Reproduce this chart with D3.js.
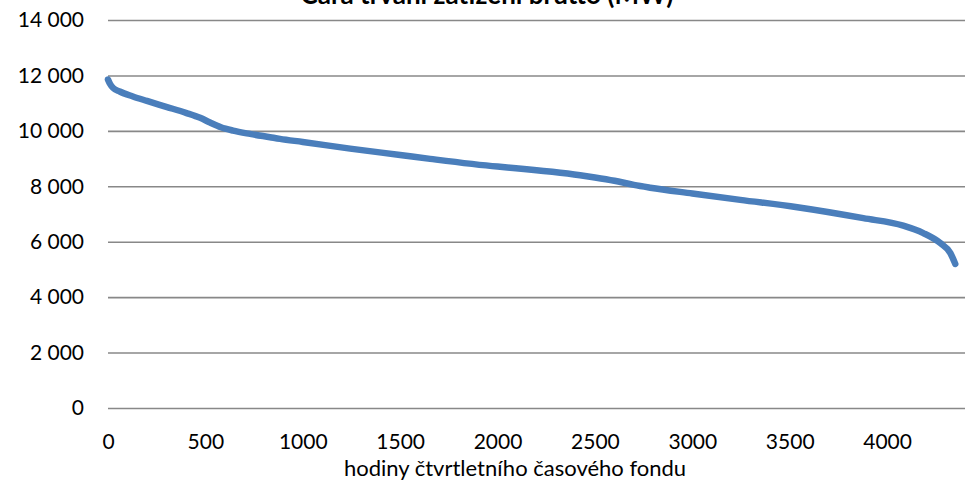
<!DOCTYPE html>
<html>
<head>
<meta charset="utf-8">
<script src="https://cdn.jsdelivr.net/npm/d3@7"></script>
<style>
  html, body { margin: 0; padding: 0; background: #fff; }
  svg { display: block; }
  text { font-family: Lato, "Open Sans", sans-serif; fill: #000; }
</style>
</head>
<body>
<svg id="chart" width="975" height="493"></svg>
<script>
// ---- data ----
const title = "Čára trvání zatížení brutto (MW)";
const xTitle = "hodiny čtvrtletního časového fondu";
const hours = [0, 10, 26, 60, 128, 200, 303, 400, 473, 524, 580, 642, 729, 832, 883, 1000, 1243, 1500, 1654, 2000, 2065, 2424, 2500, 2600, 2700, 2784, 3000, 3246, 3539, 3878, 4083, 4186, 4273, 4325, 4350];
const loadMW = [11850, 11700, 11550, 11420, 11240, 11080, 10860, 10650, 10470, 10300, 10130, 10010, 9890, 9770, 9710, 9600, 9360, 9130, 8990, 8710, 8670, 8400, 8320, 8200, 8050, 7950, 7740, 7510, 7245, 6850, 6580, 6310, 5950, 5590, 5200];
const xTicks = [0, 500, 1000, 1500, 2000, 2500, 3000, 3500, 4000];
const yTicks = [0, 2000, 4000, 6000, 8000, 10000, 12000, 14000];
const xMax = 4400, yMax = 14000;

// ---- layout ----
const svg = d3.select("#chart");
const mLeft = 108, mRight = 965, mTop = 20, mBottom = 408;

const x = d3.scaleLinear().domain([0, xMax]).range([mLeft, mRight]);
const y = d3.scaleLinear().domain([0, yMax]).range([mBottom, mTop]);

const loc = d3.formatLocale({decimal: ",", thousands: "\u00a0", grouping: [3], currency: ["", ""]});
const fmt = loc.format(",d");

// gridlines + y labels
const gy = svg.append("g").attr("transform", `translate(${mLeft},0)`)
  .call(d3.axisLeft(y).tickValues(yTicks).tickSize(-(mRight - mLeft)).tickPadding(24).tickFormat(fmt));
gy.select(".domain").remove();
gy.selectAll(".tick line").attr("stroke", "#888888").attr("stroke-width", 1.6);
gy.selectAll(".tick text").attr("font-size", 21).attr("font-family", "Lato, 'Open Sans', sans-serif").attr("fill", "#000");

// x labels
const gx = svg.append("g").attr("transform", `translate(0,${mBottom})`)
  .call(d3.axisBottom(x).tickValues(xTicks).tickSize(0).tickPadding(26).tickFormat(d3.format("d")));
gx.select(".domain").remove();
gx.selectAll(".tick text").attr("font-size", 21).attr("font-family", "Lato, 'Open Sans', sans-serif").attr("fill", "#000");

// line
const pts = hours.map((h, i) => [h, loadMW[i]]);
svg.append("path")
  .datum(pts)
  .attr("fill", "none")
  .attr("stroke", "#4a7ebb")
  .attr("stroke-width", 6.5)
  .attr("stroke-linejoin", "round")
  .attr("stroke-linecap", "round")
  .attr("d", d3.line().x(d => x(d[0])).y(d => y(d[1])).curve(d3.curveMonotoneX));

// titles
svg.append("text").attr("x", 487).attr("y", 4).attr("text-anchor", "middle")
  .attr("font-size", 26).attr("font-weight", "bold").text(title);
svg.append("text").attr("x", 515).attr("y", 476).attr("text-anchor", "middle")
  .attr("font-size", 22).text(xTitle);
</script>
</body>
</html>
